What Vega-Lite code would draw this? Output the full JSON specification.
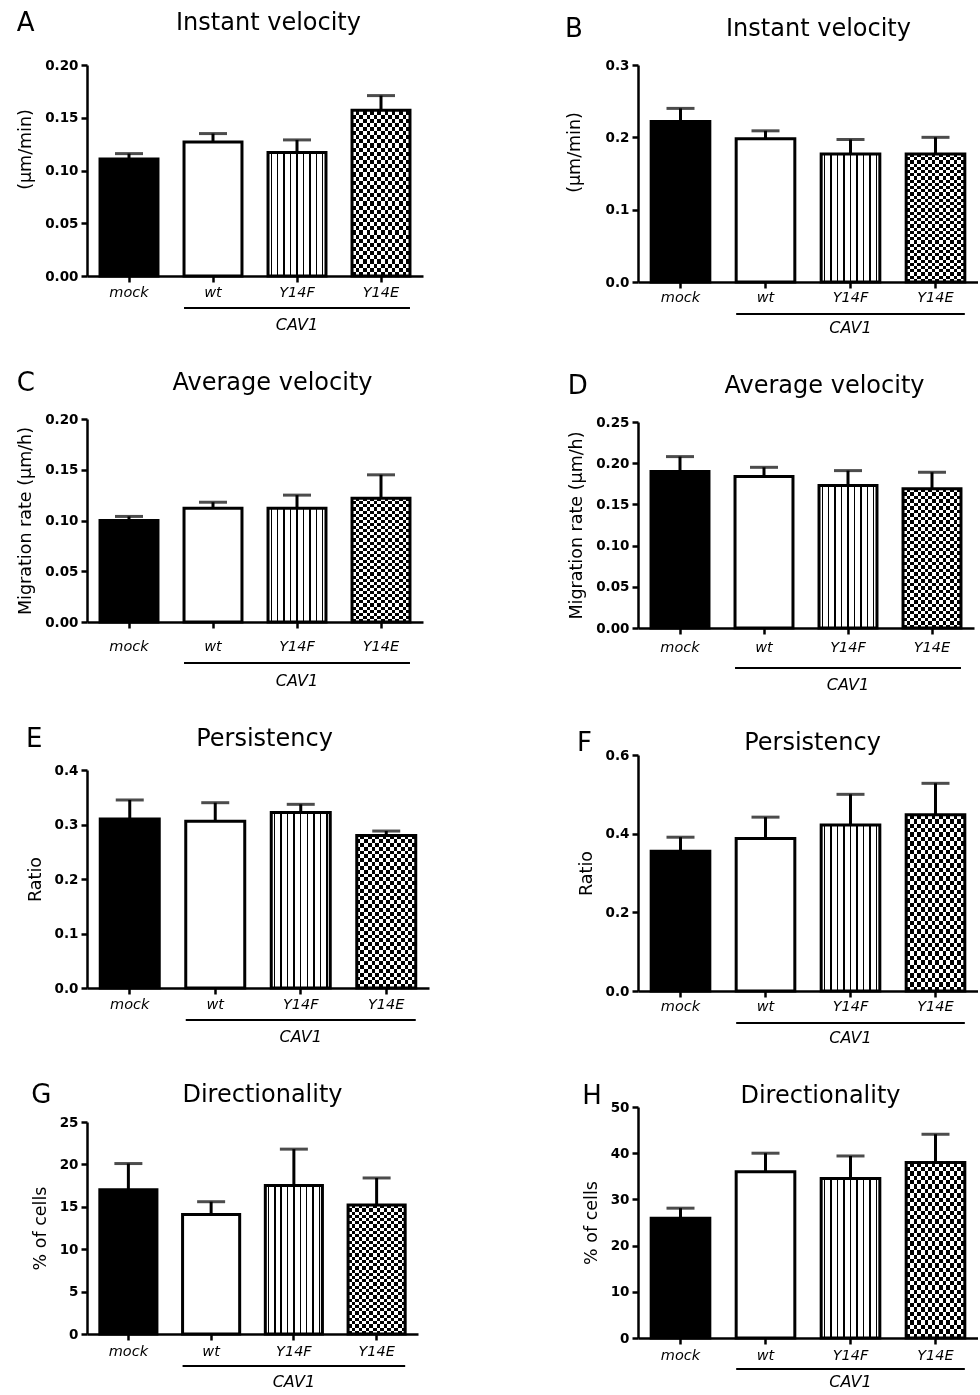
{
"$schema": "https://vega.github.io/schema/vega-lite/v6.json",
"background": "white",
"padding": {"left": 16, "top": 10, "right": 0, "bottom": 0},
"params": [
{"name": "vs", "value": {"gradient": "linear", "x1": 0, "y1": 0, "x2": 1, "y2": 0, "stops": [{"offset":0,"color":"#fff"},{"offset":0.043,"color":"#fff"},{"offset":0.043,"color":"#000"},{"offset":0.068,"color":"#000"},{"offset":0.068,"color":"#fff"},{"offset":0.154,"color":"#fff"},{"offset":0.154,"color":"#000"},{"offset":0.179,"color":"#000"},{"offset":0.179,"color":"#fff"},{"offset":0.265,"color":"#fff"},{"offset":0.265,"color":"#000"},{"offset":0.29,"color":"#000"},{"offset":0.29,"color":"#fff"},{"offset":0.376,"color":"#fff"},{"offset":0.376,"color":"#000"},{"offset":0.401,"color":"#000"},{"offset":0.401,"color":"#fff"},{"offset":0.4875,"color":"#fff"},{"offset":0.4875,"color":"#000"},{"offset":0.5125,"color":"#000"},{"offset":0.5125,"color":"#fff"},{"offset":0.599,"color":"#fff"},{"offset":0.599,"color":"#000"},{"offset":0.624,"color":"#000"},{"offset":0.624,"color":"#fff"},{"offset":0.71,"color":"#fff"},{"offset":0.71,"color":"#000"},{"offset":0.735,"color":"#000"},{"offset":0.735,"color":"#fff"},{"offset":0.821,"color":"#fff"},{"offset":0.821,"color":"#000"},{"offset":0.846,"color":"#000"},{"offset":0.846,"color":"#fff"},{"offset":0.932,"color":"#fff"},{"offset":0.932,"color":"#000"},{"offset":0.957,"color":"#000"},{"offset":0.957,"color":"#fff"},{"offset":1,"color":"#fff"}]}},
{"name": "hs", "value": {"gradient": "linear", "x1": 0, "y1": 0, "x2": 0, "y2": 1, "stops": [{"offset":0,"color":"#000"},{"offset":0.025,"color":"#000"},{"offset":0.025,"color":"#fff"},{"offset":0.05,"color":"#fff"},{"offset":0.05,"color":"#000"},{"offset":0.075,"color":"#000"},{"offset":0.075,"color":"#fff"},{"offset":0.1,"color":"#fff"},{"offset":0.1,"color":"#000"},{"offset":0.125,"color":"#000"},{"offset":0.125,"color":"#fff"},{"offset":0.15,"color":"#fff"},{"offset":0.15,"color":"#000"},{"offset":0.175,"color":"#000"},{"offset":0.175,"color":"#fff"},{"offset":0.2,"color":"#fff"},{"offset":0.2,"color":"#000"},{"offset":0.225,"color":"#000"},{"offset":0.225,"color":"#fff"},{"offset":0.25,"color":"#fff"},{"offset":0.25,"color":"#000"},{"offset":0.275,"color":"#000"},{"offset":0.275,"color":"#fff"},{"offset":0.3,"color":"#fff"},{"offset":0.3,"color":"#000"},{"offset":0.325,"color":"#000"},{"offset":0.325,"color":"#fff"},{"offset":0.35,"color":"#fff"},{"offset":0.35,"color":"#000"},{"offset":0.375,"color":"#000"},{"offset":0.375,"color":"#fff"},{"offset":0.4,"color":"#fff"},{"offset":0.4,"color":"#000"},{"offset":0.425,"color":"#000"},{"offset":0.425,"color":"#fff"},{"offset":0.45,"color":"#fff"},{"offset":0.45,"color":"#000"},{"offset":0.475,"color":"#000"},{"offset":0.475,"color":"#fff"},{"offset":0.5,"color":"#fff"},{"offset":0.5,"color":"#000"},{"offset":0.525,"color":"#000"},{"offset":0.525,"color":"#fff"},{"offset":0.55,"color":"#fff"},{"offset":0.55,"color":"#000"},{"offset":0.575,"color":"#000"},{"offset":0.575,"color":"#fff"},{"offset":0.6,"color":"#fff"},{"offset":0.6,"color":"#000"},{"offset":0.625,"color":"#000"},{"offset":0.625,"color":"#fff"},{"offset":0.65,"color":"#fff"},{"offset":0.65,"color":"#000"},{"offset":0.675,"color":"#000"},{"offset":0.675,"color":"#fff"},{"offset":0.7,"color":"#fff"},{"offset":0.7,"color":"#000"},{"offset":0.725,"color":"#000"},{"offset":0.725,"color":"#fff"},{"offset":0.75,"color":"#fff"},{"offset":0.75,"color":"#000"},{"offset":0.775,"color":"#000"},{"offset":0.775,"color":"#fff"},{"offset":0.8,"color":"#fff"},{"offset":0.8,"color":"#000"},{"offset":0.825,"color":"#000"},{"offset":0.825,"color":"#fff"},{"offset":0.85,"color":"#fff"},{"offset":0.85,"color":"#000"},{"offset":0.875,"color":"#000"},{"offset":0.875,"color":"#fff"},{"offset":0.9,"color":"#fff"},{"offset":0.9,"color":"#000"},{"offset":0.925,"color":"#000"},{"offset":0.925,"color":"#fff"},{"offset":0.95,"color":"#fff"},{"offset":0.95,"color":"#000"},{"offset":0.975,"color":"#000"},{"offset":0.975,"color":"#fff"},{"offset":1,"color":"#fff"}]}},
{"name": "ck", "value": {"gradient": "linear", "x1": 0, "y1": 0, "x2": 1, "y2": 0, "stops": [{"offset":0,"color":"#fff"},{"offset":0.0625,"color":"#fff"},{"offset":0.0625,"color":"#000"},{"offset":0.125,"color":"#000"},{"offset":0.125,"color":"#fff"},{"offset":0.1875,"color":"#fff"},{"offset":0.1875,"color":"#000"},{"offset":0.25,"color":"#000"},{"offset":0.25,"color":"#fff"},{"offset":0.3125,"color":"#fff"},{"offset":0.3125,"color":"#000"},{"offset":0.375,"color":"#000"},{"offset":0.375,"color":"#fff"},{"offset":0.4375,"color":"#fff"},{"offset":0.4375,"color":"#000"},{"offset":0.5,"color":"#000"},{"offset":0.5,"color":"#fff"},{"offset":0.5625,"color":"#fff"},{"offset":0.5625,"color":"#000"},{"offset":0.625,"color":"#000"},{"offset":0.625,"color":"#fff"},{"offset":0.6875,"color":"#fff"},{"offset":0.6875,"color":"#000"},{"offset":0.75,"color":"#000"},{"offset":0.75,"color":"#fff"},{"offset":0.8125,"color":"#fff"},{"offset":0.8125,"color":"#000"},{"offset":0.875,"color":"#000"},{"offset":0.875,"color":"#fff"},{"offset":0.9375,"color":"#fff"},{"offset":0.9375,"color":"#000"},{"offset":1,"color":"#000"}]}}
],
"datasets": {
"A": [{"g":"mock","v":0.111,"e":0.116},{"g":"wt","v":0.127,"e":0.135},{"g":"Y14F","v":0.117,"e":0.129},{"g":"Y14E","v":0.157,"e":0.171}],
"B": [{"g":"mock","v":0.222,"e":0.240},{"g":"wt","v":0.198,"e":0.209},{"g":"Y14F","v":0.177,"e":0.197},{"g":"Y14E","v":0.177,"e":0.200}],
"C": [{"g":"mock","v":0.100,"e":0.104},{"g":"wt","v":0.112,"e":0.118},{"g":"Y14F","v":0.112,"e":0.125},{"g":"Y14E","v":0.122,"e":0.145}],
"D": [{"g":"mock","v":0.190,"e":0.208},{"g":"wt","v":0.184,"e":0.195},{"g":"Y14F","v":0.173,"e":0.191},{"g":"Y14E","v":0.169,"e":0.189}],
"E": [{"g":"mock","v":0.310,"e":0.345},{"g":"wt","v":0.306,"e":0.340},{"g":"Y14F","v":0.322,"e":0.337},{"g":"Y14E","v":0.280,"e":0.288}],
"F": [{"g":"mock","v":0.355,"e":0.391},{"g":"wt","v":0.388,"e":0.442},{"g":"Y14F","v":0.422,"e":0.500},{"g":"Y14E","v":0.448,"e":0.528}],
"G": [{"g":"mock","v":17.0,"e":20.1},{"g":"wt","v":14.1,"e":15.6},{"g":"Y14F","v":17.5,"e":21.8},{"g":"Y14E","v":15.2,"e":18.4}],
"H": [{"g":"mock","v":25.9,"e":28.1},{"g":"wt","v":36.0,"e":40.0},{"g":"Y14F","v":34.5,"e":39.4},{"g":"Y14E","v":38.0,"e":44.1}]
},
"spacing": 136,
"hconcat": [
{"spacing": 37, "vconcat": [
{
"width": 336, "height": 211, "title": {"text": "A"}, "data": {"name": "A"},
"encoding": {
"x": {"field": "g", "type": "nominal", "scale": {"domain": ["mock","wt","Y14F","Y14E"], "paddingInner": 0.31, "paddingOuter": 0.155}, "axis": null},
"y": {"field": "v", "type": "quantitative", "scale": {"domain": [0, 0.2], "nice": false}, "axis": {"title": "(µm/min)", "values": [0,0.05,0.1,0.15,0.2], "format": ".2f", "titleY": 84}}
},
"layer": [
{"mark": {"type": "bar"}, "encoding": {"x": {"field": "g", "type": "nominal", "axis": {"orient": "top", "title": "Instant velocity", "titleX": 181, "titlePadding": 36}}, "fill": {"condition": {"test": "datum.g === 'mock'", "value": "black"}, "value": "white"}}},
{"transform": [{"filter": "datum.g === 'Y14F'"}], "mark": {"type": "bar", "fill": {"expr": "vs"}}},
{"transform": [{"filter": "datum.g === 'Y14E'"}], "mark": {"type": "bar", "fill": {"expr": "hs"}}},
{"transform": [{"filter": "datum.g === 'Y14E'"}], "mark": {"type": "bar", "fill": {"expr": "ck"}, "blend": "difference"}},
{"mark": {"type": "rule", "color": "black", "strokeWidth": 3}, "encoding": {"y2": {"field": "e"}}},
{"mark": {"type": "tick", "color": "black", "size": 28, "thickness": 3}, "encoding": {"y": {"field": "e", "type": "quantitative"}}},
{"mark": {"type": "bar", "fill": "transparent", "stroke": "black", "strokeWidth": 3}, "encoding": {"x": {"field": "g", "type": "nominal", "axis": {"orient": "bottom", "title": null, "labelPadding": 3}}}},
{"transform": [{"filter": "datum.g === 'wt'"}], "mark": {"type": "rule", "color": "black", "strokeWidth": 2, "yOffset": 32}, "encoding": {"x": {"field": "g", "type": "nominal", "bandPosition": 0, "axis": null}, "x2": {"datum": "Y14E", "bandPosition": 1}, "y": {"datum": 0}}},
{"transform": [{"filter": "datum.g === 'Y14F'"}], "mark": {"type": "text", "style": "cavtext", "yOffset": 49}, "encoding": {"y": {"datum": 0}, "text": {"value": "CAV1"}}}
],
"resolve": {"axis": {"x": "independent"}}
},
{
"width": 336, "height": 203, "title": {"text": "C"}, "data": {"name": "C"},
"encoding": {
"x": {"field": "g", "type": "nominal", "scale": {"domain": ["mock","wt","Y14F","Y14E"], "paddingInner": 0.31, "paddingOuter": 0.155}, "axis": null},
"y": {"field": "v", "type": "quantitative", "scale": {"domain": [0, 0.2], "nice": false}, "axis": {"title": "Migration rate (µm/h)", "values": [0,0.05,0.1,0.15,0.2], "format": ".2f"}}
},
"layer": [
{"mark": {"type": "bar"}, "encoding": {"x": {"field": "g", "type": "nominal", "axis": {"orient": "top", "title": "Average velocity", "titleX": 185, "titlePadding": 30}}, "fill": {"condition": {"test": "datum.g === 'mock'", "value": "black"}, "value": "white"}}},
{"transform": [{"filter": "datum.g === 'Y14F'"}], "mark": {"type": "bar", "fill": {"expr": "vs"}}},
{"transform": [{"filter": "datum.g === 'Y14E'"}], "mark": {"type": "bar", "fill": {"expr": "hs"}}},
{"transform": [{"filter": "datum.g === 'Y14E'"}], "mark": {"type": "bar", "fill": {"expr": "ck"}, "blend": "difference"}},
{"mark": {"type": "rule", "color": "black", "strokeWidth": 3}, "encoding": {"y2": {"field": "e"}}},
{"mark": {"type": "tick", "color": "black", "size": 28, "thickness": 3}, "encoding": {"y": {"field": "e", "type": "quantitative"}}},
{"mark": {"type": "bar", "fill": "transparent", "stroke": "black", "strokeWidth": 3}, "encoding": {"x": {"field": "g", "type": "nominal", "axis": {"orient": "bottom", "title": null, "labelPadding": 11}}}},
{"transform": [{"filter": "datum.g === 'wt'"}], "mark": {"type": "rule", "color": "black", "strokeWidth": 2, "yOffset": 41}, "encoding": {"x": {"field": "g", "type": "nominal", "bandPosition": 0, "axis": null}, "x2": {"datum": "Y14E", "bandPosition": 1}, "y": {"datum": 0}}},
{"transform": [{"filter": "datum.g === 'Y14F'"}], "mark": {"type": "text", "style": "cavtext", "yOffset": 59}, "encoding": {"y": {"datum": 0}, "text": {"value": "CAV1"}}}
],
"resolve": {"axis": {"x": "independent"}}
},
{
"width": 342, "height": 218, "title": {"text": "E"}, "data": {"name": "E"},
"encoding": {
"x": {"field": "g", "type": "nominal", "scale": {"domain": ["mock","wt","Y14F","Y14E"], "paddingInner": 0.31, "paddingOuter": 0.155}, "axis": null},
"y": {"field": "v", "type": "quantitative", "scale": {"domain": [0, 0.4], "nice": false}, "axis": {"title": "Ratio", "values": [0,0.1,0.2,0.3,0.4], "format": ".1f"}}
},
"layer": [
{"mark": {"type": "bar"}, "encoding": {"x": {"field": "g", "type": "nominal", "axis": {"orient": "top", "title": "Persistency", "titleX": 177, "titlePadding": 25}}, "fill": {"condition": {"test": "datum.g === 'mock'", "value": "black"}, "value": "white"}}},
{"transform": [{"filter": "datum.g === 'Y14F'"}], "mark": {"type": "bar", "fill": {"expr": "vs"}}},
{"transform": [{"filter": "datum.g === 'Y14E'"}], "mark": {"type": "bar", "fill": {"expr": "hs"}}},
{"transform": [{"filter": "datum.g === 'Y14E'"}], "mark": {"type": "bar", "fill": {"expr": "ck"}, "blend": "difference"}},
{"mark": {"type": "rule", "color": "black", "strokeWidth": 3}, "encoding": {"y2": {"field": "e"}}},
{"mark": {"type": "tick", "color": "black", "size": 28, "thickness": 3}, "encoding": {"y": {"field": "e", "type": "quantitative"}}},
{"mark": {"type": "bar", "fill": "transparent", "stroke": "black", "strokeWidth": 3}, "encoding": {"x": {"field": "g", "type": "nominal", "axis": {"orient": "bottom", "title": null, "labelPadding": 3}}}},
{"transform": [{"filter": "datum.g === 'wt'"}], "mark": {"type": "rule", "color": "black", "strokeWidth": 2, "yOffset": 32}, "encoding": {"x": {"field": "g", "type": "nominal", "bandPosition": 0, "axis": null}, "x2": {"datum": "Y14E", "bandPosition": 1}, "y": {"datum": 0}}},
{"transform": [{"filter": "datum.g === 'Y14F'"}], "mark": {"type": "text", "style": "cavtext", "yOffset": 49}, "encoding": {"y": {"datum": 0}, "text": {"value": "CAV1"}}}
],
"resolve": {"axis": {"x": "independent"}}
},
{
"width": 331, "height": 212, "title": {"text": "G"}, "data": {"name": "G"},
"encoding": {
"x": {"field": "g", "type": "nominal", "scale": {"domain": ["mock","wt","Y14F","Y14E"], "paddingInner": 0.31, "paddingOuter": 0.155}, "axis": null},
"y": {"field": "v", "type": "quantitative", "scale": {"domain": [0, 25], "nice": false}, "axis": {"title": "% of cells", "values": [0,5,10,15,20,25], "format": "d"}}
},
"layer": [
{"mark": {"type": "bar"}, "encoding": {"x": {"field": "g", "type": "nominal", "axis": {"orient": "top", "title": "Directionality", "titleX": 175, "titlePadding": 21}}, "fill": {"condition": {"test": "datum.g === 'mock'", "value": "black"}, "value": "white"}}},
{"transform": [{"filter": "datum.g === 'Y14F'"}], "mark": {"type": "bar", "fill": {"expr": "vs"}}},
{"transform": [{"filter": "datum.g === 'Y14E'"}], "mark": {"type": "bar", "fill": {"expr": "hs"}}},
{"transform": [{"filter": "datum.g === 'Y14E'"}], "mark": {"type": "bar", "fill": {"expr": "ck"}, "blend": "difference"}},
{"mark": {"type": "rule", "color": "black", "strokeWidth": 3}, "encoding": {"y2": {"field": "e"}}},
{"mark": {"type": "tick", "color": "black", "size": 28, "thickness": 3}, "encoding": {"y": {"field": "e", "type": "quantitative"}}},
{"mark": {"type": "bar", "fill": "transparent", "stroke": "black", "strokeWidth": 3}, "encoding": {"x": {"field": "g", "type": "nominal", "axis": {"orient": "bottom", "title": null, "labelPadding": 4}}}},
{"transform": [{"filter": "datum.g === 'wt'"}], "mark": {"type": "rule", "color": "black", "strokeWidth": 2, "yOffset": 32}, "encoding": {"x": {"field": "g", "type": "nominal", "bandPosition": 0, "axis": null}, "x2": {"datum": "Y14E", "bandPosition": 1}, "y": {"datum": 0}}},
{"transform": [{"filter": "datum.g === 'Y14F'"}], "mark": {"type": "text", "style": "cavtext", "yOffset": 48}, "encoding": {"y": {"datum": 0}, "text": {"value": "CAV1"}}}
],
"resolve": {"axis": {"x": "independent"}}
}
]},
{"spacing": 37, "vconcat": [
{
"width": 340, "height": 217, "title": {"text": "B"}, "data": {"name": "B"},
"encoding": {
"x": {"field": "g", "type": "nominal", "scale": {"domain": ["mock","wt","Y14F","Y14E"], "paddingInner": 0.31, "paddingOuter": 0.155}, "axis": null},
"y": {"field": "v", "type": "quantitative", "scale": {"domain": [0, 0.3], "nice": false}, "axis": {"title": "(µm/min)", "values": [0,0.1,0.2,0.3], "format": ".1f", "titleY": 87, "titlePadding": 22}}
},
"layer": [
{"mark": {"type": "bar"}, "encoding": {"x": {"field": "g", "type": "nominal", "axis": {"orient": "top", "title": "Instant velocity", "titleX": 180, "titlePadding": 30}}, "fill": {"condition": {"test": "datum.g === 'mock'", "value": "black"}, "value": "white"}}},
{"transform": [{"filter": "datum.g === 'Y14F'"}], "mark": {"type": "bar", "fill": {"expr": "vs"}}},
{"transform": [{"filter": "datum.g === 'Y14E'"}], "mark": {"type": "bar", "fill": {"expr": "hs"}}},
{"transform": [{"filter": "datum.g === 'Y14E'"}], "mark": {"type": "bar", "fill": {"expr": "ck"}, "blend": "difference"}},
{"mark": {"type": "rule", "color": "black", "strokeWidth": 3}, "encoding": {"y2": {"field": "e"}}},
{"mark": {"type": "tick", "color": "black", "size": 28, "thickness": 3}, "encoding": {"y": {"field": "e", "type": "quantitative"}}},
{"mark": {"type": "bar", "fill": "transparent", "stroke": "black", "strokeWidth": 3}, "encoding": {"x": {"field": "g", "type": "nominal", "axis": {"orient": "bottom", "title": null, "labelPadding": 2}}}},
{"transform": [{"filter": "datum.g === 'wt'"}], "mark": {"type": "rule", "color": "black", "strokeWidth": 2, "yOffset": 32}, "encoding": {"x": {"field": "g", "type": "nominal", "bandPosition": 0, "axis": null}, "x2": {"datum": "Y14E", "bandPosition": 1}, "y": {"datum": 0}}},
{"transform": [{"filter": "datum.g === 'Y14F'"}], "mark": {"type": "text", "style": "cavtext", "yOffset": 46}, "encoding": {"y": {"datum": 0}, "text": {"value": "CAV1"}}}
],
"resolve": {"axis": {"x": "independent"}}
},
{
"width": 336, "height": 206, "title": {"text": "D"}, "data": {"name": "D"},
"encoding": {
"x": {"field": "g", "type": "nominal", "scale": {"domain": ["mock","wt","Y14F","Y14E"], "paddingInner": 0.31, "paddingOuter": 0.155}, "axis": null},
"y": {"field": "v", "type": "quantitative", "scale": {"domain": [0, 0.25], "nice": false}, "axis": {"title": "Migration rate (µm/h)", "values": [0,0.05,0.1,0.15,0.2,0.25], "format": ".2f"}}
},
"layer": [
{"mark": {"type": "bar"}, "encoding": {"x": {"field": "g", "type": "nominal", "axis": {"orient": "top", "title": "Average velocity", "titleX": 186, "titlePadding": 30}}, "fill": {"condition": {"test": "datum.g === 'mock'", "value": "black"}, "value": "white"}}},
{"transform": [{"filter": "datum.g === 'Y14F'"}], "mark": {"type": "bar", "fill": {"expr": "vs"}}},
{"transform": [{"filter": "datum.g === 'Y14E'"}], "mark": {"type": "bar", "fill": {"expr": "hs"}}},
{"transform": [{"filter": "datum.g === 'Y14E'"}], "mark": {"type": "bar", "fill": {"expr": "ck"}, "blend": "difference"}},
{"mark": {"type": "rule", "color": "black", "strokeWidth": 3}, "encoding": {"y2": {"field": "e"}}},
{"mark": {"type": "tick", "color": "black", "size": 28, "thickness": 3}, "encoding": {"y": {"field": "e", "type": "quantitative"}}},
{"mark": {"type": "bar", "fill": "transparent", "stroke": "black", "strokeWidth": 3}, "encoding": {"x": {"field": "g", "type": "nominal", "axis": {"orient": "bottom", "title": null, "labelPadding": 6}}}},
{"transform": [{"filter": "datum.g === 'wt'"}], "mark": {"type": "rule", "color": "black", "strokeWidth": 2, "yOffset": 40}, "encoding": {"x": {"field": "g", "type": "nominal", "bandPosition": 0, "axis": null}, "x2": {"datum": "Y14E", "bandPosition": 1}, "y": {"datum": 0}}},
{"transform": [{"filter": "datum.g === 'Y14F'"}], "mark": {"type": "text", "style": "cavtext", "yOffset": 57}, "encoding": {"y": {"datum": 0}, "text": {"value": "CAV1"}}}
],
"resolve": {"axis": {"x": "independent"}}
},
{
"width": 340, "height": 236, "title": {"text": "F"}, "data": {"name": "F"},
"encoding": {
"x": {"field": "g", "type": "nominal", "scale": {"domain": ["mock","wt","Y14F","Y14E"], "paddingInner": 0.31, "paddingOuter": 0.155}, "axis": null},
"y": {"field": "v", "type": "quantitative", "scale": {"domain": [0, 0.6], "nice": false}, "axis": {"title": "Ratio", "values": [0,0.2,0.4,0.6], "format": ".1f"}}
},
"layer": [
{"mark": {"type": "bar"}, "encoding": {"x": {"field": "g", "type": "nominal", "axis": {"orient": "top", "title": "Persistency", "titleX": 174, "titlePadding": 6}}, "fill": {"condition": {"test": "datum.g === 'mock'", "value": "black"}, "value": "white"}}},
{"transform": [{"filter": "datum.g === 'Y14F'"}], "mark": {"type": "bar", "fill": {"expr": "vs"}}},
{"transform": [{"filter": "datum.g === 'Y14E'"}], "mark": {"type": "bar", "fill": {"expr": "hs"}}},
{"transform": [{"filter": "datum.g === 'Y14E'"}], "mark": {"type": "bar", "fill": {"expr": "ck"}, "blend": "difference"}},
{"mark": {"type": "rule", "color": "black", "strokeWidth": 3}, "encoding": {"y2": {"field": "e"}}},
{"mark": {"type": "tick", "color": "black", "size": 28, "thickness": 3}, "encoding": {"y": {"field": "e", "type": "quantitative"}}},
{"mark": {"type": "bar", "fill": "transparent", "stroke": "black", "strokeWidth": 3}, "encoding": {"x": {"field": "g", "type": "nominal", "axis": {"orient": "bottom", "title": null, "labelPadding": 2}}}},
{"transform": [{"filter": "datum.g === 'wt'"}], "mark": {"type": "rule", "color": "black", "strokeWidth": 2, "yOffset": 32}, "encoding": {"x": {"field": "g", "type": "nominal", "bandPosition": 0, "axis": null}, "x2": {"datum": "Y14E", "bandPosition": 1}, "y": {"datum": 0}}},
{"transform": [{"filter": "datum.g === 'Y14F'"}], "mark": {"type": "text", "style": "cavtext", "yOffset": 47}, "encoding": {"y": {"datum": 0}, "text": {"value": "CAV1"}}}
],
"resolve": {"axis": {"x": "independent"}}
},
{
"width": 340, "height": 231, "title": {"text": "H"}, "data": {"name": "H"},
"encoding": {
"x": {"field": "g", "type": "nominal", "scale": {"domain": ["mock","wt","Y14F","Y14E"], "paddingInner": 0.31, "paddingOuter": 0.155}, "axis": null},
"y": {"field": "v", "type": "quantitative", "scale": {"domain": [0, 50], "nice": false}, "axis": {"title": "% of cells", "values": [0,10,20,30,40,50], "format": "d"}}
},
"layer": [
{"mark": {"type": "bar"}, "encoding": {"x": {"field": "g", "type": "nominal", "axis": {"orient": "top", "title": "Directionality", "titleX": 182, "titlePadding": 5}}, "fill": {"condition": {"test": "datum.g === 'mock'", "value": "black"}, "value": "white"}}},
{"transform": [{"filter": "datum.g === 'Y14F'"}], "mark": {"type": "bar", "fill": {"expr": "vs"}}},
{"transform": [{"filter": "datum.g === 'Y14E'"}], "mark": {"type": "bar", "fill": {"expr": "hs"}}},
{"transform": [{"filter": "datum.g === 'Y14E'"}], "mark": {"type": "bar", "fill": {"expr": "ck"}, "blend": "difference"}},
{"mark": {"type": "rule", "color": "black", "strokeWidth": 3}, "encoding": {"y2": {"field": "e"}}},
{"mark": {"type": "tick", "color": "black", "size": 28, "thickness": 3}, "encoding": {"y": {"field": "e", "type": "quantitative"}}},
{"mark": {"type": "bar", "fill": "transparent", "stroke": "black", "strokeWidth": 3}, "encoding": {"x": {"field": "g", "type": "nominal", "axis": {"orient": "bottom", "title": null, "labelPadding": 4}}}},
{"transform": [{"filter": "datum.g === 'wt'"}], "mark": {"type": "rule", "color": "black", "strokeWidth": 2, "yOffset": 31}, "encoding": {"x": {"field": "g", "type": "nominal", "bandPosition": 0, "axis": null}, "x2": {"datum": "Y14E", "bandPosition": 1}, "y": {"datum": 0}}},
{"transform": [{"filter": "datum.g === 'Y14F'"}], "mark": {"type": "text", "style": "cavtext", "yOffset": 44}, "encoding": {"y": {"datum": 0}, "text": {"value": "CAV1"}}}
],
"resolve": {"axis": {"x": "independent"}}
}
]}
],
"config": {
"view": {"stroke": null},
"font": "DejaVu Sans",
"axis": {"domainColor": "black", "domainWidth": 2.5, "tickColor": "black", "tickWidth": 2.5, "tickSize": 6, "labelColor": "black", "titleColor": "black", "grid": false, "labelFont": "DejaVu Sans", "titleFont": "DejaVu Sans"},
"axisY": {"labelFontWeight": "bold", "labelFontSize": 13.5, "labelPadding": 3, "titleFontSize": 17.5, "titleFontWeight": "normal", "titlePadding": 10},
"axisBottom": {"labelFontStyle": "italic", "labelFontSize": 14.5, "labelAngle": 0},
"axisTop": {"labels": false, "ticks": false, "domain": false, "titleFontSize": 24, "titleFontWeight": "normal", "titleBaseline": "alphabetic"},
"title": {"anchor": "start", "frame": "bounds", "fontSize": 26, "fontWeight": "normal", "offset": 0, "color": "black", "font": "DejaVu Sans", "baseline": "alphabetic", "dy": 30},
"style": {
"cavtext": {"font": "DejaVu Sans", "fontSize": 16, "fontStyle": "italic", "baseline": "middle", "align": "center", "color": "black"}
}
}
}
